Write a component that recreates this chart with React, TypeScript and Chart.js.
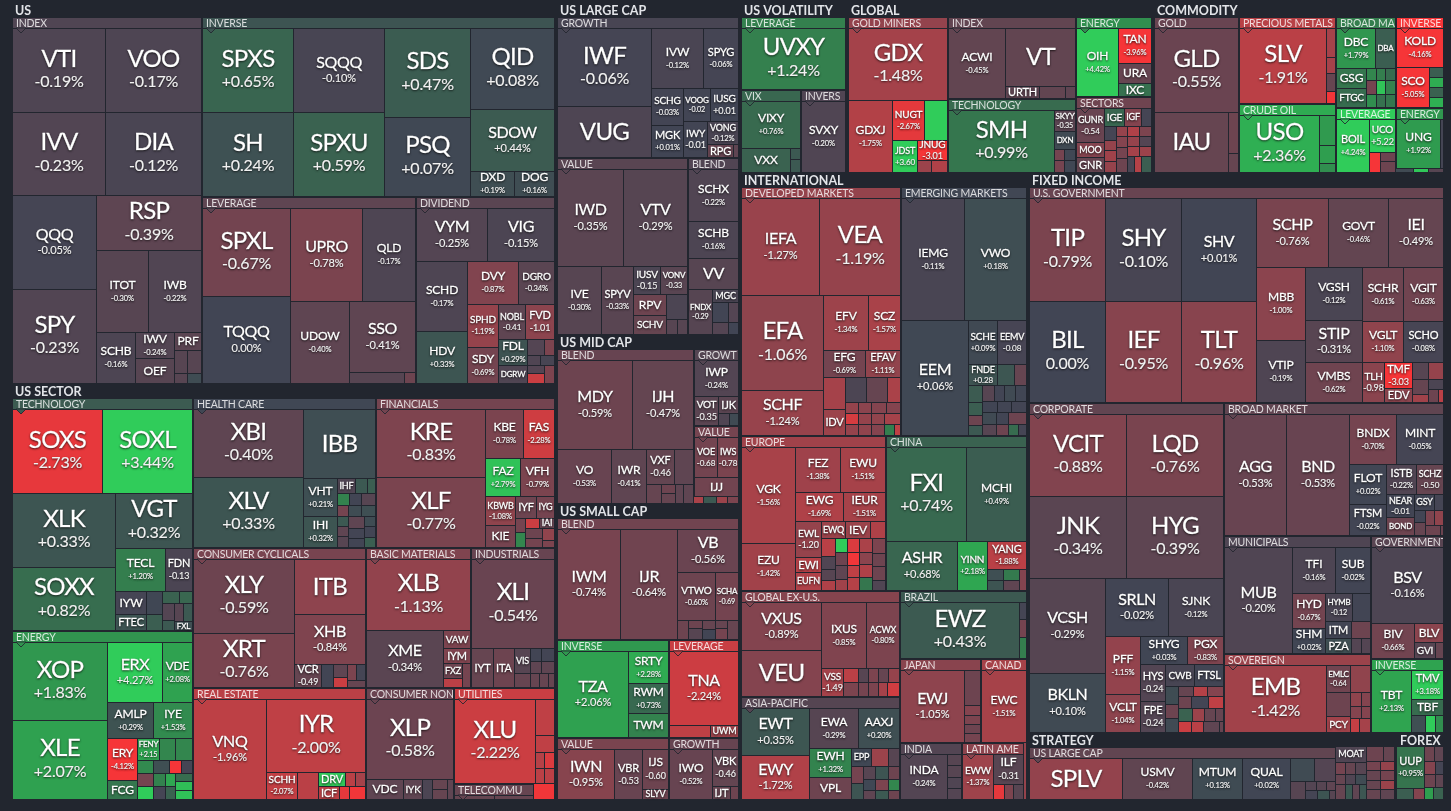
import React, { useEffect, useRef } from "react";
import { Chart, DatasetController, Element, LinearScale } from "chart.js";

type Leaf = { k: "leaf"; ticker: string; label?: string; change: number; size: number };
type Split = { k: "H" | "V"; kids: Node[] };
type Group = { k: "G" | "T"; title: string; kid: Node; extra: number };
type Node = Leaf | Split | Group;

const c = (ticker: string, label: string, size: number): Leaf => ({ k: "leaf", ticker, label, change: parseFloat(label), size });
const n = (ticker: string, change: number, size: number): Leaf => ({ k: "leaf", ticker, change, size });
const u = (change: number, size: number): Leaf => ({ k: "leaf", ticker: "", change, size });
const H = (...kids: Node[]): Split => ({ k: "H", kids });
const V = (...kids: Node[]): Split => ({ k: "V", kids });
const G = (title: string, kid: Node): Group => ({ k: "G", title, kid, extra: 0 });
const T = (title: string, ...kids: Node[]): Group => ({ k: "T", title, kid: kids.length === 1 ? kids[0] : V(...kids), extra: 0 });

// ---- US ----
const usIndex = G("INDEX", V(
  H(V(c("VTI", "-0.19%", 7544), c("IVV", "-0.23%", 7544)), V(c("VOO", "-0.17%", 7790), c("DIA", "-0.12%", 7790))),
  H(V(c("QQQ", "-0.05%", 7544), c("SPY", "-0.23%", 7626)),
    V(c("RSP", "-0.39%", 5565),
      H(c("ITOT", "-0.30%", 4212), c("IWB", "-0.22%", 4212)),
      H(c("SCHB", "-0.16%", 1900), V(c("IWV", "-0.24%", 950), n("OEF", -0.3, 950)),
        V(n("PRF", -0.35, 459), H(V(u(-0.3, 300), u(-0.3, 130)), V(u(-0.3, 322), u(0.15, 140)
  ))))) )));
const usInverse = G("INVERSE", H(
  V(c("SPXS", "+0.65%", 7300), c("SH", "+0.24%", 7400)),
  V(c("SQQQ", "-0.10%", 7380), c("SPXU", "+0.59%", 7470)),
  V(c("SDS", "+0.47%", 7400), c("PSQ", "+0.07%", 6630)),
  V(c("QID", "+0.08%", 6557), c("SDOW", "+0.44%", 4980), H(c("DXD", "+0.19%", 1100), c("DOG", "+0.16%", 975)
  ))));
const usLeverage = G("LEVERAGE", H(
  V(c("SPXL", "-0.67%", 7480), c("TQQQ", "0.00%", 7400)),
  V(H(c("UPRO", "-0.78%", 6460), c("QLD", "-0.17%", 4732)),
    H(c("UDOW", "-0.40%", 4617), V(c("SSO", "-0.41%", 4485), H(u(-0.3, 594), u(-0.6, 121)
  ))))));
const usDividend = G("DIVIDEND", V(
  H(c("VYM", "-0.25%", 3620), c("VIG", "-0.15%", 3417)),
  H(V(c("SCHD", "-0.17%", 3450), c("HDV", "+0.33%", 2550)),
    V(H(c("DVY", "-0.87%", 2142), c("DGRO", "-0.34%", 1470)),
      H(V(c("SPHD", "-1.19%", 1260), c("SDY", "-0.69%", 1080)),
        V(H(c("NOBL", "-0.41", 918), c("FVD", "-1.01", 952)),
          H(V(c("FDL", "+0.29%", 725), n("DGRW", -0.2, 493)),
            V(H(u(-0.25, 255), u(-0.8, 150)), H(u(-0.2, 130), u(-0.1, 140)), H(V(u(-0.25, 136), u(-2.2, 153)), u(-0.8, 170)
  ))))) ))));
const usSectorTech = G("TECHNOLOGY", V(
  H(c("SOXS", "-2.73%", 7390), c("SOXL", "+3.44%", 7390)),
  H(V(c("XLK", "+0.33%", 7474), c("SOXX", "+0.82%", 6262)),
    V(c("VGT", "+0.32%", 4158),
      H(c("TECL", "+1.20%", 2150), c("FDN", "-0.13", 1161)),
      H(V(n("IYW", -0.05, 690), n("FTEC", 0.3, 480)), V(u(0.05, 368), u(0.5, 256)),
        V(H(u(0.6, 204), u(0.7, 156)), H(V(u(-0.25, 192), u(0.4, 108)), V(H(u(-0.3, 153), u(0.4, 153)), n("FXL", 0.2, 162)
  ))))) )));
const usSectorEnergy = G("ENERGY", H(
  V(c("XOP", "+1.83%", 7254), c("XLE", "+2.07%", 7347)),
  V(H(c("ERX", "+4.27%", 3245), c("VDE", "+2.08%", 1770)),
    H(c("AMLP", "+0.29%", 1610), c("IYE", "+1.53%", 1365)),
    H(V(c("ERY", "-4.12%", 1230), n("FCG", 1.0, 570)),
      V(H(c("FENY", "+2.15", 484), u(1.4, 352), u(1.4, 374)),
        H(u(1.5, 208), u(0.2, 195), u(-3, 156), u(-0.05, 144)),
        H(V(u(-0.7, 208), u(3, 208)), V(u(1.3, 144), u(-0.05, 156)), V(u(2.2, 120), u(0.6, 130)), V(u(0.8, 136), u(2.7, 136), u(2.8, 153)
  ))))) ));
const usSectorHealth = G("HEALTH CARE", H(
  V(c("XBI", "-0.40%", 7344), c("XLV", "+0.33%", 7560)),
  V(n("IBB", 0.18, 4896),
    H(V(c("VHT", "+0.21%", 1254), c("IHI", "+0.32%", 1023)),
      V(H(n("IHF", -0.2, 255), u(0.4, 180), u(0.5, 120)),
        H(u(1.3, 144), u(-0.02, 144), u(-0.3, 168)),
        H(u(-0.7, 120), u(0.15, 130), u(0.2, 150)),
        H(V(u(0.4, 108), u(-0.4, 108), u(-0.3, 120)), V(u(-0.4, 176), u(-0.03, 160), u(-0.02, 144)), V(u(0.15, 120), u(-0.02, 120), u(0.5, 120)
  ))))) ));
const usSectorFin = G("FINANCIALS", H(
  V(c("KRE", "-0.83%", 7276), c("XLF", "-0.77%", 7490)),
  V(H(c("KBE", "-0.78%", 1824), c("FAS", "-2.28%", 1488)),
    H(c("FAZ", "+2.79%", 1295), c("VFH", "-0.79%", 1221)),
    H(V(c("KBWB", "-1.08%", 841), n("KIE", -0.7, 638)),
      V(H(n("IYF", -0.6, 462), n("IYG", -0.7, 374)),
        H(V(u(-0.7, 143), u(1.4, 165)), V(H(u(-2.2, 130), n("IAI", -0.5, 150)), H(V(u(-0.6, 153), u(-0.7, 153)), V(u(-1.1, 144), u(-0.8, 84)
  ))))) ))));
const usSectorCyc = G("CONSUMER CYCLICALS", H(
  V(c("XLY", "-0.59%", 7252), c("XRT", "-0.76%", 5390)),
  V(n("ITB", -1.05, 3780), c("XHB", "-0.84%", 3500),
    H(c("VCR", "-0.49", 598), u(-0.02, 276), V(u(-0.4, 182), u(-2.2, 140)), V(H(u(-0.8, 144), u(-0.05, 144)), u(-0.5, 126)
  )))));
const usSectorReal = G("REAL ESTATE", H(
  c("VNQ", "-1.96%", 7100),
  V(c("IYR", "-2.00%", 7081),
    H(c("SCHH", "-2.07%", 810), u(-1.9, 540),
      V(H(n("DRV", 2.9, 364), u(-1.9, 126), u(-1.5, 140)), H(n("ICF", -1.9, 273), u(-2.7, 130), u(-2.9, 208)
  ))))) );
const usSectorBasic = G("BASIC MATERIALS", V(
  c("XLB", "-1.13%", 7140),
  H(c("XME", "-0.34%", 4256),
    V(n("VAW", -0.8, 468), n("IYM", -0.85, 416), H(V(n("FXZ", -0.6, 270), u(-1.9, 162)), u(-0.7, 192)
  )))));
const usSectorInd = G("INDUSTRIALS", V(
  c("XLI", "-0.54%", 7134),
  H(n("IYT", -0.5, 840), n("ITA", -0.6, 800),
    V(H(n("VIS", -0.3, 400), V(H(u(-0.02, 143), u(-0.03, 156)), H(u(-0.4, 143), u(-0.4, 156)))),
      H(u(-0.5, 210), u(-0.5, 126), u(-0.5, 126), u(-0.5, 70)
  )))));
const usSectorNon = G("CONSUMER NON-", V(
  c("XLP", "-0.58%", 6794),
  H(n("VDC", -0.4, 700), n("IYK", -0.4, 360), u(-0.15, 200), V(u(-0.5, 140), u(-0.5, 140)), u(-0.4, 120)
  )));
const usSectorUtil = G("UTILITIES", H(
  c("XLU", "-2.22%", 6636),
  V(u(-2.0, 665), u(-2.0, 323), H(u(-1.8, 135), u(-2.5, 150)), H(u(-1.9, 135), u(-1.9, 150)
  ))));
const usSectorTele = G("TELECOMMU", H(u(-0.5, 140), u(-0.5, 140)));

// ---- US caps ----
const largeGrowth = G("GROWTH", H(
  V(c("IWF", "-0.06%", 7315), n("VUG", -0.18, 4845)),
  V(H(c("IVW", "-0.12%", 3068), c("SPYG", "-0.06%", 2065)),
    H(V(c("SCHG", "-0.03%", 1184), c("MGK", "+0.01%", 1024)),
      V(H(c("VOOG", "-0.02", 891), c("IUSG", "+0.01", 924)),
        H(c("IWY", "-0.01", 864), V(c("VONG", "-0.12%", 713), H(n("RPG", -0.5, 338), u(-0.4, 65)
  ))))) )));
const largeValue = G("VALUE", V(
  H(c("IWD", "-0.35%", 6402), c("VTV", "-0.29%", 6111)),
  H(c("IVE", "-0.30%", 2948), c("SPYV", "-0.33%", 2144),
    V(H(c("IUSV", "-0.15", 729), c("VONV", "-0.33", 729)),
      H(V(n("RPV", -0.6, 693), n("SCHV", -0.5, 627)), V(u(-0.15, 525), H(u(-0.3, 154), u(-0.3, 140)
  ))))) ));
const largeBlend = G("BLEND", V(
  c("SCHX", "-0.22%", 2600), c("SCHB", "-0.16%", 1850), n("VV", -0.3, 1550),
  H(c("FNDX", "-0.29", 1100), V(n("MGC", -0.12, 338), H(V(u(-0.02, 320), u(-0.25, 176)), V(u(-0.25, 200), u(0.0, 110)
  ))))) );
const midBlend = G("BLEND", V(
  H(c("MDY", "-0.59%", 6660), c("IJH", "-0.47%", 5400)),
  H(c("VO", "-0.53%", 2862), c("IWR", "-0.41%", 1890),
    V(H(c("VXF", "-0.46", 980), u(-0.4, 630)),
      H(u(-0.5, 266), V(u(-0.6, 135), u(-0.5, 135)), u(-0.4, 152), u(-0.4, 171)
  )))));
const midGrowth = G("GROWT", V(
  c("IWP", "-0.24%", 1610),
  H(c("VOT", "-0.35", 700), V(n("IJK", -0.35, 336), H(u(-0.2, 132), u(0.1, 120)
  )))));
const midValue = G("VALUE", V(
  H(c("VOE", "-0.68", 912), c("IWS", "-0.78", 836)),
  n("IJJ", -0.65, 874)));
const smallBlend = G("BLEND", H(
  c("IWM", "-0.74%", 7040), c("IJR", "-0.64%", 6270),
  V(c("VB", "-0.56%", 2666),
    H(c("VTWO", "-0.60%", 1786), c("SCHA", "-0.69", 1128)),
    H(u(-0.6, 220), V(u(-0.6, 112), u(-0.3, 154)), V(u(-0.5, 117), u(-0.02, 130)), V(u(-0.5, 104), u(-0.7, 130)), u(-0.5, 220)
  ))));
const smallInverse = G("INVERSE", H(
  c("TZA", "+2.06%", 6106),
  V(c("SRTY", "+2.28%", 1271), c("RWM", "+0.73%", 1230), n("TWM", 1.3, 984)
  )));
const smallLeverage = G("LEVERAGE", V(
  c("TNA", "-2.24%", 5100),
  H(u(-2.0, 492), n("UWM", -1.3, 336)
  )));
const smallValue = G("VALUE", H(
  c("IWN", "-0.95%", 2850), c("VBR", "-0.53", 1400),
  V(c("IJS", "-0.60", 1053), n("SLYV", -0.6, 270)
  )));
const smallGrowth = G("GROWTH", H(
  c("IWO", "-0.52%", 2150),
  V(c("VBK", "-0.46", 962), H(n("IJT", -0.5, 221), u(-0.6, 104)
  ))));

// ---- volatility / global ----
const volLeverage = G("LEVERAGE", c("UVXY", "+1.24%", 6120));
const volVix = G("VIX", V(c("VIXY", "+0.76%", 2622), H(n("VXX", 0.6, 1128), V(u(0.4, 110), u(0.4, 120)
))));
const volInvers = G("INVERS", c("SVXY", "-0.20%", 3010));
const gloMiners = G("GOLD MINERS", V(
  c("GDX", "-1.48%", 6790),
  H(c("GDXJ", "-1.75%", 3053),
    V(H(c("NUGT", "-2.67%", 1248), u(3, 858)),
      H(c("JDST", "+3.60", 775), V(c("JNUG", "-3.01", 580), H(u(-1.3, 156), u(-1.7, 176)
  ))))) ));
const gloIndex = G("INDEX", H(
  c("ACWI", "-0.45%", 3876),
  V(n("VT", -0.45, 3933), H(n("URTH", -0.4, 396), u(-0.45, 312), u(-0.4, 120)
  ))));
const gloTech = G("TECHNOLOGY", H(
  c("SMH", "+0.99%", 6283),
  V(c("SKYY", "-0.35", 440), n("DXN", 0.1, 374), H(V(u(-0.7, 121), u(-0.7, 121)), V(u(0.05, 121), u(0.05, 121)
  )))));
const gloEnergy = G("ENERGY", H(
  c("OIH", "+4.42%", 2747),
  V(c("TAN", "-3.96%", 1088), n("URA", -0.5, 608), n("IXC", 0.9, 416)
  )));
const gloSectors = G("SECTORS", H(
  V(c("GUNR", "-0.54", 884), n("MOO", -0.9, 390), n("GNR", -0.5, 390)),
  V(H(n("IGE", 0.7, 357), n("IGF", -0.9, 289), u(-0.05, 170)),
    H(V(u(-0.05, 168), u(-1.2, 120), u(-1.4, 132), u(-1.2, 132)),
      V(u(-1.2, 110), u(-0.9, 110), u(-0.7, 125), u(-0.6, 140)),
      V(H(u(-1.7, 120), u(-0.8, 110)), H(u(-1.2, 120), u(-0.25, 110)), H(u(-1.5, 120), u(-1.3, 110)),
        H(u(-0.1, 105), u(-1.8, 105), u(0.5, 135)
  ))))) );
const comGold = G("GOLD", V(
  c("GLD", "-0.55%", 6804),
  H(n("IAU", -0.5, 4307), V(u(-0.6, 369), u(-0.5, 162)
  ))));
const comPrecious = G("PRECIOUS METALS", H(
  c("SLV", "-1.91%", 6364),
  V(u(-1.5, 252), u(-1.5, 144), u(-0.5, 153), u(-2.9, 108)
  )));
const comCrude = G("CRUDE OIL", H(
  c("USO", "+2.36%", 4345),
  V(u(1.9, 464), u(2.0, 288), u(1.6, 128)
  )));
const comBroad = G("BROAD MA", V(
  H(c("DBC", "+1.79%", 1482), n("DBA", 0.5, 760)),
  H(V(n("GSG", 1.0, 580), n("FTGC", 0.8, 551)),
    V(H(u(1.4, 120), u(1.2, 120), u(0.8, 120)), H(u(-0.7, 130), u(2.8, 130), u(1.3, 130)), H(u(1.6, 120), u(0.9, 120), u(1.0, 120)
  )))));
const comInverse = G("INVERSE", V(
  c("KOLD", "-4.16%", 1748),
  H(c("SCO", "-5.05%", 1280), V(u(0.5, 140), u(2.3, 140), u(0.6, 140), u(2.4, 140)
  ))));
const comLeverage = G("LEVERAGE", H(
  c("BOIL", "+4.24%", 1643),
  V(c("UCO", "+5.22", 825), H(u(-3, 220), V(u(-0.6, 126), u(-0.6, 140)
  )))));
const comEnergy = G("ENERGY", H(c("UNG", "+1.92%", 2068), u(-0.05, 132)));

// ---- international ----
const intDeveloped = G("DEVELOPED MARKETS", V(
  H(c("IEFA", "-1.27%", 7469), c("VEA", "-1.19%", 7760)),
  H(V(c("EFA", "-1.06%", 7600), c("SCHF", "-1.24%", 3680)),
    V(H(c("EFV", "-1.34%", 2376), c("SCZ", "-1.57%", 1728)),
      H(c("EFG", "-0.69%", 1107), c("EFAV", "-1.11%", 945)),
      H(V(u(-1.5, 660), n("IDV", -1.3, 540)),
        V(H(u(-0.15, 504), u(-0.5, 504), u(-1.6, 312)),
          H(u(-1.2, 143), u(-1.0, 143), u(-0.9, 165), u(-0.9, 154)),
          H(u(-2.4, 143), u(-1.2, 143), u(-1.1, 143), u(-1.5, 176)),
          H(u(-1.2, 143), u(-1.1, 143), u(-0.9, 143), u(1.2, 110), u(-2.0, 66)
  ))))) ));
const intEmerging = G("EMERGING MARKETS", V(
  H(c("IEMG", "-0.11%", 7564), c("VWO", "+0.18%", 7564)),
  H(c("EEM", "+0.06%", 7590),
    V(H(c("SCHE", "+0.09%", 1247), c("EEMV", "-0.08", 1247)),
      H(c("FNDE", "+0.28", 616), u(0.35, 352), u(-0.5, 264)),
      H(V(u(0.45, 238), u(0.5, 182), u(-0.6, 140), u(0.4, 140)),
        V(H(u(-0.3, 176), u(-0.02, 160), u(0.1, 176), u(0.02, 176)),
          H(u(0.0, 154), u(-0.02, 154), u(-0.03, 165)),
          H(u(0.1, 156), u(-0.02, 144), u(-0.6, 216)),
          H(u(-0.3, 143), u(-0.6, 132), u(0.8, 110), u(-0.05, 88)
  ))))) ));
const intEurope = G("EUROPE", H(
  V(c("VGK", "-1.56%", 5035), c("EZU", "-1.42%", 2491)),
  V(H(c("FEZ", "-1.38%", 1980), c("EWU", "-1.51%", 1980)),
    H(c("EWG", "-1.69%", 1363), c("IEUR", "-1.51%", 1218)),
    H(V(c("EWL", "-1.20", 910), n("EWI", -1.8, 390), n("EUFN", -1.7, 468)),
      V(H(n("EWQ", -1.3, 408), n("IEV", -1.3, 408), u(-1.7, 255)),
        H(V(u(-1.9, 252), u(-0.2, 182), u(-0.3, 156), u(-1.7, 140)),
          V(u(3, 170), u(-0.6, 150), u(-0.4, 160), u(-1.4, 140)),
          V(u(-2.5, 170), u(-2.9, 160), u(-2.0, 150), u(-1.8, 160)),
          V(u(-1.6, 170), u(-1.0, 150), u(-1.7, 160), u(1.0, 160)),
          V(u(-0.8, 200), u(-0.6, 180), u(-0.6, 180), u(-0.2, 140)
  ))))) ));
const intChina = G("CHINA", V(
  H(c("FXI", "+0.74%", 7360), c("MCHI", "+0.49%", 5520)),
  H(c("ASHR", "+0.68%", 3430), c("YINN", "+2.18%", 1470),
    V(c("YANG", "-1.88%", 1080), H(V(u(0.2, 165), u(0.3, 165)), V(u(1.1, 165), u(-0.4, 165)), u(-0.9, 154)
  )))));
const intGlobalEx = G("GLOBAL EX-U.S.", H(
  V(c("VXUS", "-0.89%", 3744), n("VEU", -0.9, 3588)),
  V(H(c("IXUS", "-0.85%", 2925), c("ACWX", "-0.80%", 2080)),
    H(c("VSS", "-1.49", 609),
      V(H(u(-1.9, 210), u(-0.3, 140), u(-0.8, 140), u(-0.5, 140), u(-1.2, 154)),
        H(u(-0.8, 210), u(-0.7, 140), u(-0.8, 140), u(-1.5, 126), u(-2.3, 168)
  ))))) );
const intAsia = G("ASIA-PACIFIC", H(
  V(c("EWT", "+0.35%", 3055), c("EWY", "-1.72%", 2925)),
  V(H(c("EWA", "-0.29%", 1911), c("AAXJ", "+0.20%", 1599)),
    H(V(c("EWH", "+1.32%", 1218), n("VPL", -0.6, 924)),
      V(H(n("EPP", 0.05, 342), u(-1.3, 306), u(-0.3, 198)),
        H(V(u(-0.7, 187), u(0.3, 187)), V(u(-0.3, 156), u(0.05, 132), u(-0.4, 108)), V(u(0.3, 156), u(-0.8, 132), u(0.4, 108)), V(u(-0.6, 143), u(1.4, 121), u(-0.6, 99)
  ))))) ));
const intBrazil = G("BRAZIL", H(
  c("EWZ", "+0.43%", 6490),
  V(u(-0.05, 112), u(-0.7, 126), u(1.2, 140)
  )));
const intJapan = G("JAPAN", H(
  c("EWJ", "-1.05%", 4536),
  V(u(-0.6, 544), u(-0.9, 160), u(-0.8, 144), u(-0.6, 144), u(-0.7, 144)
  )));
const intCanada = G("CANAD", c("EWC", "-1.51%", 3240));
const intIndia = G("INDIA", H(
  c("INDA", "-0.24%", 2070),
  V(u(-0.3, 154), u(-0.3, 154), u(-0.2, 154), u(-0.25, 154)
  )));
const intLatin = G("LATIN AME", H(
  c("EWW", "-1.37%", 1350),
  V(c("ILF", "-0.31", 868), H(u(-2.7, 150), u(-0.8, 135), u(-0.3, 135)
  ))));

// ---- fixed income ----
const fiGov = G("U.S. GOVERNMENT", H(
  V(c("TIP", "-0.79%", 7650), c("BIL", "0.00%", 7575)),
  V(c("SHY", "-0.10%", 7650), c("IEF", "-0.95%", 7575)),
  V(c("SHV", "+0.01%", 7650), c("TLT", "-0.96%", 7575)),
  V(H(c("SCHP", "-0.76%", 4899), c("GOVT", "-0.46%", 4071), c("IEI", "-0.49%", 3795)),
    H(V(c("MBB", "-1.00%", 3504), c("VTIP", "-0.19%", 2976)),
      V(c("VGSH", "-0.12%", 2912), c("STIP", "-0.31%", 2352), c("VMBS", "-0.62%", 2240)),
      V(H(c("SCHR", "-0.61%", 2173), c("VGIT", "-0.63%", 2120)),
        H(c("VGLT", "-1.10%", 1640), c("SCHO", "-0.08%", 1600)),
        H(c("TLH", "-0.98", 882), V(c("TMF", "-3.03", 729), n("EDV", -1.0, 405)),
          V(H(u(-0.3, 272), u(-1.2, 255)), H(V(u(-0.5, 224), u(-1.4, 120)), V(u(-0.15, 150), H(u(-0.6, 130), u(-1.9, 65)
  ))))) )))));
const fiCorp = G("CORPORATE", V(
  H(c("VCIT", "-0.88%", 7695), c("LQD", "-0.76%", 7776)),
  H(c("JNK", "-0.34%", 7790), c("HYG", "-0.39%", 7872)),
  H(V(c("VCSH", "-0.29%", 7030), c("BKLN", "+0.10%", 4366)),
    V(H(c("SRLN", "-0.02%", 3591), c("SJNK", "-0.12%", 3078)),
      H(V(c("PFF", "-1.15%", 2030), c("VCLT", "-1.04%", 1365)),
        V(H(c("SHYG", "+0.03%", 1288), c("PGX", "-0.83%", 1008)),
          H(V(c("HYS", "-0.24", 888), c("FPE", "-0.24", 768)),
            V(H(n("CWB", -0.1, 638), n("FTSL", -0.02, 616)),
              H(V(u(0.15, 234), u(-0.6, 182), u(0.1, 182)),
                V(H(u(-0.5, 140), u(-1.8, 130), u(-0.9, 150)),
                  H(u(-0.6, 156), u(-0.03, 195), u(-2.0, 182)),
                  H(u(0.6, 168), u(-1.3, 154), u(-0.5, 140), u(-0.5, 100)),
                  H(u(-2.2, 144), u(-1.9, 132), u(-0.4, 180), u(-0.5, 36)
  ))))) ))))) );
const fiBroad = G("BROAD MARKET", H(
  c("AGG", "-0.53%", 7378), c("BND", "-0.53%", 7378),
  V(H(c("BNDX", "-0.70%", 2303), c("MINT", "-0.05%", 2303)),
    H(V(c("FLOT", "+0.02%", 1440), c("FTSM", "-0.02%", 1080)),
      V(H(c("ISTB", "-0.22%", 899), c("SCHZ", "-0.50", 783)),
        H(V(c("NEAR", "-0.01", 621), n("BOND", -0.6, 486)),
          V(H(n("GSY", -0.02, 315), u(-0.05, 135)),
            H(V(u(-0.02, 132), u(-0.5, 143)), V(H(u(-0.8, 135), u(-1.1, 135)), H(u(-0.6, 135), u(-0.6, 30)
  ))))) )))));
const fiMuni = G("MUNICIPALS", H(
  c("MUB", "-0.20%", 7140),
  V(H(c("TFI", "-0.16%", 1932), c("SUB", "-0.02%", 1610)),
    H(V(c("HYD", "-0.67%", 1120), c("SHM", "+0.02%", 800)),
      V(H(c("HYMB", "-0.12", 756), u(-0.02, 504)),
        H(V(n("ITM", -0.02, 442), n("PZA", 0.2, 390)), V(u(-0.6, 323), H(u(-0.25, 150), u(-0.25, 135)
  ))))) )));
const fiSovereign = G("SOVEREIGN", H(
  c("EMB", "-1.42%", 6767),
  V(H(c("EMLC", "-0.64", 621), u(-1.1, 540)),
    H(V(u(-0.6, 552), n("PCY", -1.4, 391)),
      V(H(u(-1.1, 143), u(-0.9, 130)), H(u(-0.9, 132), u(-0.9, 120)), H(u(-2.1, 130), u(-1.5, 154)
  ))))) );
const fiGovernment = G("GOVERNMENT", V(
  c("BSV", "-0.16%", 5396),
  H(c("BIV", "-0.66%", 1428), V(n("BLV", -1.0, 551), H(n("GVI", -0.3, 315), u(-0.5, 120)
  )))));
const fiInverse = G("INVERSE", H(
  c("TBT", "+2.13%", 2432),
  V(c("TMV", "+3.18%", 924), n("TBF", 0.8, 528), H(u(0.2, 234), u(3, 180), u(1.6, 126)
  ))));

// ---- strategy / forex ----
const stratLarge = G("US LARGE CAP", H(
  n("SPLV", -1.15, 3654), c("USMV", "-0.42%", 2772), c("MTUM", "+0.13%", 1974), c("QUAL", "+0.02%", 1890),
  V(H(u(0.12, 529), u(-0.25, 460)),
    H(u(-0.3, 260), V(H(u(-0.25, 100), u(-0.3, 90), u(-0.4, 80)), H(u(-0.05, 100), u(0.3, 108), u(-0.3, 54)
  ))))) );
const stratMoat = V(n("MOAT", -0.2, 462),
  H(u(-0.7, 110), u(-0.5, 110), u(-0.3, 121)),
  H(u(-0.5, 100), u(-0.2, 110), u(0.12, 110)),
  H(u(-0.5, 140), u(0.4, 98), u(-0.4, 98), u(0.35, 98)));
const stratOther = V(H(u(-0.6, 240), u(-0.5, 160)), H(u(-0.7, 130), u(-1.2, 120)), H(u(-0.5, 132), u(-0.7, 132)), H(u(-0.5, 132), u(-1.3, 132)), H(u(-0.5, 132), u(-0.4, 132)));
const forexMain = V(c("UUP", "+0.95%", 1170), H(u(0.5, 180), u(-0.9, 120)));
const forexSide = V(H(u(-0.6, 143), u(-0.4, 121)), H(u(-0.9, 132), u(-0.05, 110)), H(u(-0.6, 132), u(-0.4, 110)), H(u(2, 100), u(0.6, 110)));

const usBlock = T("US", H(usIndex, V(usInverse, H(usLeverage, usDividend))));
const sectorBlock = T("US SECTOR", H(
  V(usSectorTech, usSectorEnergy),
  V(H(usSectorHealth, usSectorFin),
    H(V(usSectorCyc, usSectorReal),
      V(H(usSectorBasic, usSectorInd),
        H(usSectorNon, V(usSectorUtil, H(usSectorTele, u(-2.9, 319)
  ))))) )));
const largeBlock = T("US LARGE CAP", V(largeGrowth, H(largeValue, largeBlend)));
const midBlock = T("US MID CAP", H(midBlend, V(midGrowth, midValue, H(u(-1.6, 66), u(0.4, 78), u(-1.3, 66), u(-0.8, 72)
  ))));
const smallBlock = T("US SMALL CAP", V(smallBlend, H(V(smallInverse, smallValue), V(smallLeverage, smallGrowth))));
const volBlock = T("US VOLATILITY", V(volLeverage, H(volVix, volInvers)));
const globalBlock = T("GLOBAL", H(gloMiners, V(gloIndex, gloTech), V(gloEnergy, gloSectors)));
const commodityBlock = T("COMMODITY", H(comGold, V(comPrecious, comCrude),
  V(H(comBroad, comInverse), H(comLeverage, V(comEnergy, H(u(0.1, 72), u(2.9, 60), u(-0.3, 60)
  ))))) );
const internationalBlock = T("INTERNATIONAL", V(
  H(intDeveloped, intEmerging), H(intEurope, intChina),
  H(V(intGlobalEx, intAsia), V(intBrazil, H(intJapan, intCanada), H(intIndia, intLatin, u(-1.2, 208)
  ))))); 
const fixedBlock = T("FIXED INCOME", V(fiGov, H(fiCorp, V(fiBroad, H(V(fiMuni, fiSovereign), V(fiGovernment, fiInverse
  ))))) );
const strategyBlock = T("STRATEGY", H(stratLarge, stratMoat, stratOther));
const forexBlock = T("FOREX", H(forexMain, forexSide));

const columnOne = V(usBlock, sectorBlock);
const columnTwo = V(largeBlock, midBlock, smallBlock);
const topRow = H(volBlock, globalBlock, commodityBlock);
const treeRoot: Node = H(columnOne, columnTwo, V(topRow, H(internationalBlock, V(fixedBlock, H(strategyBlock, forexBlock)))));

// Small trims to the size estimates of whole blocks, so their edges land where the picture has them.
const SIZE_TRIM = new Map<Node, number>([
  [columnOne, 1.0036], [columnTwo, 0.99], [usBlock, 1.01], [smallBlock, 0.993], [topRow, 1.012],
]);

// Tickers whose label is drawn at a given size, instead of what the fit rule finds.
const FONT_OVERRIDE: Record<string, number> = {
  TZA: 16, SHV: 16, VV: 16, IJH: 16, VIG: 16, VB: 16, IEFA: 16, BSV: 16, SRLN: 16,
  ACWI: 12, IEMG: 12, VWO: 12, MCHI: 12, VIXY: 12, GOVT: 12, USMV: 12, SJNK: 12,
};

const PAGE_BG = "#22262f";
const STOPS: [number, number[]][] = [
  [-3, [246, 53, 56]], [-2, [191, 64, 69]], [-1, [139, 68, 78]], [0, [65, 69, 84]],
  [1, [53, 118, 78]], [2, [47, 158, 79]], [3, [48, 204, 90]],
];
function heat(v: number): string {
  const t = Math.max(-3, Math.min(3, v));
  for (let i = 0; i < STOPS.length - 1; i++) {
    const [a, ca] = STOPS[i];
    const [b, cb] = STOPS[i + 1];
    if (t <= b) {
      const f = (t - a) / (b - a);
      return `rgb(${ca.map((x, j) => Math.round(x + (cb[j] - x) * f)).join(",")})`;
    }
  }
  return "rgb(48,204,90)";
}

function weight(nd: Node): number {
  const trim = SIZE_TRIM.get(nd) ?? 1;
  if (nd.k === "leaf") return nd.size * trim;
  if (nd.k === "H" || nd.k === "V") return nd.kids.reduce((s, x) => s + weight(x), 0) * trim;
  return (weight(nd.kid) + nd.extra) * trim;
}
function sumChange(nd: Node): [number, number] {
  if (nd.k === "leaf") return [nd.change * nd.size, nd.size];
  if (nd.k === "H" || nd.k === "V") {
    return nd.kids.reduce<[number, number]>((s, x) => { const r = sumChange(x); return [s[0] + r[0], s[1] + r[1]]; }, [0, 0]);
  }
  return sumChange(nd.kid);
}

type Cell = { x: number; y: number; x0: number; y0: number; x1: number; y1: number; kind: string; ticker?: string; label?: string; title?: string; change: number };
function layout(nd: Node, x0: number, y0: number, x1: number, y1: number, out: Cell[]) {
  if (nd.k === "leaf") {
    out.push({ x: x0, y: y0, x0, y0, x1, y1, kind: "leaf", ticker: nd.ticker, label: nd.label, change: nd.change });
  } else if (nd.k === "H" || nd.k === "V") {
    const total = nd.kids.reduce((s, x) => s + weight(x), 0);
    let pos = nd.k === "H" ? x0 : y0;
    const span = nd.k === "H" ? x1 - x0 : y1 - y0;
    for (const kid of nd.kids) {
      const next = pos + (span * weight(kid)) / total;
      if (nd.k === "H") layout(kid, pos, y0, next, y1, out);
      else layout(kid, x0, pos, x1, next, out);
      pos = next;
    }
  } else {
    const isTop = nd.k === "T";
    const il = isTop ? 2 : 1;
    const it = isTop ? 14 : 12;
    const ix0 = x0 + il;
    const iy0 = y0 + it;
    nd.extra = (x1 - x0) * (y1 - y0) - (x1 - ix0) * (y1 - iy0);
    const [a, b] = sumChange(nd.kid);
    const avg = a / b;
    out.push({ x: x0, y: y0, x0: ix0, y0: isTop ? y0 : y0 + 1, x1, y1: isTop ? iy0 : iy0 - 1, kind: isTop ? "title" : "header", title: nd.title, change: avg });
    layout(nd.kid, ix0, iy0, x1, y1, out);
    if (!isTop) out.push({ x: ix0, y: iy0, x0: ix0, y0: iy0 - 1, x1: ix0 + 14, y1: iy0 + 5, kind: "caret", change: avg });
  }
}
function buildCells(): Cell[] {
  let out: Cell[] = [];
  for (let pass = 0; pass < 6; pass++) {
    out = [];
    layout(treeRoot, 10, 3, 1444, 800, out);
  }
  return out;
}

const TIERS = [
  { f: 24, p: 16, r: 0.68, w: 60 }, { f: 16, p: 11, r: 0.76, w: 54 }, { f: 12, p: 7.5, r: 0.84, w: 0 },
  { f: 11, p: 7.5, r: 0.9, w: 0 }, { f: 10, p: 7.5, r: 0.92, w: 0 }, { f: 9, p: 7.5, r: 0.96, w: 0 },
  { f: 8, p: 7, r: 1, w: 0 }, { f: 7, p: 6, r: 1.05, w: 0 },
];
const FONT = "Lato, 'Open Sans', sans-serif";

class TreeCell extends Element {
  static id = "treecell";
  static defaults = {};
  left = 0; top = 0; right = 0; bottom = 0; rec: any = null;
  draw(ctx: CanvasRenderingContext2D) {
    const r = this.rec as Cell;
    const L = Math.round(this.left), Tp = Math.round(this.top), R = Math.round(this.right), B = Math.round(this.bottom);
    ctx.save();
    if (r.kind === "title") {
      ctx.font = `700 12.5px ${FONT}`;
      ctx.fillStyle = "#e2e4e8";
      ctx.textBaseline = "middle";
      ctx.textAlign = "left";
      ctx.fillText(r.title!, L + 3, B - 6);
    } else if (r.kind === "header") {
      ctx.fillStyle = heat(r.change);
      ctx.fillRect(L, Tp, R - L - 1, B - Tp);
      ctx.beginPath(); ctx.rect(L, Tp, R - L - 1, B - Tp); ctx.clip();
      ctx.font = `400 10.5px ${FONT}`;
      (ctx as any).letterSpacing = "-0.2px";
      ctx.fillStyle = "rgba(255,255,255,0.8)";
      ctx.textBaseline = "middle";
      ctx.fillText(r.title!, L + 3, Tp + 5.5);
    } else if (r.kind === "caret") {
      ctx.beginPath();
      ctx.moveTo(L + 3, Tp);
      ctx.lineTo(L + 13, Tp);
      ctx.lineTo(L + 8, Tp + 5);
      ctx.closePath();
      ctx.fillStyle = heat(r.change);
      ctx.fill();
      ctx.strokeStyle = "rgba(34,38,47,0.85)";
      ctx.lineWidth = 1;
      ctx.stroke();
    } else {
      const w = R - L - 1, h = B - Tp - 1;
      ctx.fillStyle = heat(r.change);
      ctx.fillRect(L, Tp, w, h);
      if (r.ticker) this.drawLabel(ctx, r, L, Tp, w, h);
    }
    ctx.restore();
  }
  drawLabel(ctx: CanvasRenderingContext2D, r: Cell, L: number, Tp: number, w: number, h: number) {
    const name = r.ticker!;
    const hasPct = !!r.label;
    const forced = FONT_OVERRIDE[name];
    let pick = TIERS[TIERS.length - 1];
    for (const t of TIERS) {
      if (forced && t.f > forced) continue;
      ctx.font = `400 ${t.f}px ${FONT}`;
      const tw = ctx.measureText(name).width;
      const need = hasPct ? t.f + t.p * 0.8 : t.f * 0.95;
      if (!forced && (tw > w * t.r || w < t.w || h < need)) continue;
      pick = t;
      break;
    }
    const f = pick.f;
    const p = r.label && !r.label.endsWith("%") ? Math.max(pick.p, Math.min(f * 0.9, 9)) : pick.p;
    const cx = L + w / 2, cy = Tp + h / 2;
    ctx.textAlign = "center";
    ctx.textBaseline = "middle";
    ctx.shadowColor = "rgba(0,0,0,0.6)";
    ctx.shadowBlur = 2;
    ctx.shadowOffsetY = 1;
    ctx.fillStyle = "#ffffff";
    ctx.strokeStyle = "#ffffff";
    ctx.font = `400 ${f}px ${FONT}`;
    (ctx as any).letterSpacing = f >= 24 ? "-0.7px" : f >= 16 ? "-0.35px" : "-0.15px";
    const write = (s: string, y: number, bold: number) => {
      ctx.lineWidth = bold;
      ctx.strokeText(s, cx, y);
      ctx.fillText(s, cx, y);
    };
    if (hasPct) {
      const gap = f >= 24 ? 23 : f >= 16 ? 16 : f + p * 0.1 + 1;
      write(name, cy - gap / 2, 0.35);
      ctx.font = `400 ${p}px ${FONT}`;
      (ctx as any).letterSpacing = p >= 16 ? "-0.2px" : "-0.1px";
      ctx.fillStyle = "#f2f2f2";
      ctx.strokeStyle = "#f2f2f2";
      write(r.label!, cy + gap / 2, 0.2);
    } else {
      write(name, cy, 0.35);
    }
  }
}

class TreemapController extends DatasetController {
  static id = "treemap";
  static defaults = { datasetElementType: false, dataElementType: "treecell" };
  update() {
    const meta: any = (this as any)._cachedMeta;
    const { xScale, yScale } = meta;
    const rows = (this as any).getDataset().data as Cell[];
    meta.data.forEach((el: any, i: number) => {
      const d = rows[i];
      el.left = xScale.getPixelForValue(d.x0);
      el.right = xScale.getPixelForValue(d.x1);
      el.top = yScale.getPixelForValue(d.y0);
      el.bottom = yScale.getPixelForValue(d.y1);
      el.rec = d;
    });
  }
}

Chart.register(LinearScale, TreeCell as any, TreemapController as any);

export default function App() {
  const ref = useRef<HTMLCanvasElement>(null);
  useEffect(() => {
    const chart = new Chart(ref.current!, {
      type: "treemap" as any,
      data: { datasets: [{ label: "ETF daily change", data: buildCells() as any, parsing: false } as any] },
      options: {
        animation: false, responsive: false, events: [],
        layout: { padding: 0 },
        plugins: { legend: { display: false }, tooltip: { enabled: false } } as any,
        scales: {
          x: { type: "linear", min: 0, max: 1451, display: false },
          y: { type: "linear", min: 0, max: 811, reverse: true, display: false },
        },
      },
    });
    return () => chart.destroy();
  }, []);
  return (
    <div style={{ position: "fixed", left: 0, top: 0, width: 1451, height: 811, background: PAGE_BG }}>
      <canvas ref={ref} width={1451} height={811} style={{ display: "block" }} />
    </div>
  );
}
